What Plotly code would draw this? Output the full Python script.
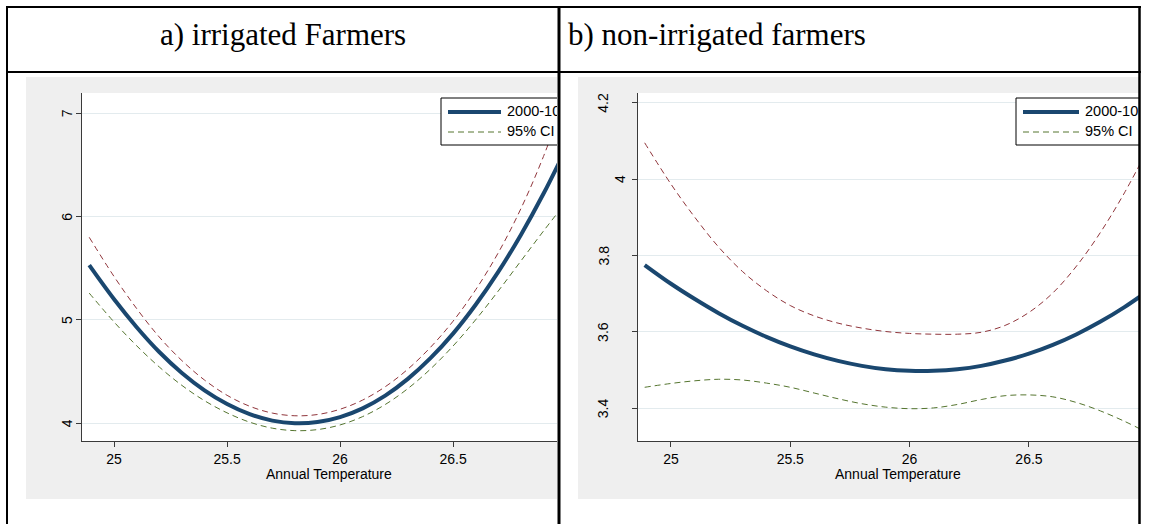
import plotly.graph_objects as go

# ---------------------------------------------------------------- data
TEMP = [24.89, 25.0, 25.1, 25.2, 25.3, 25.4, 25.5, 25.6, 25.7, 25.8, 25.9,
        26.0, 26.1, 26.2, 26.3, 26.4, 26.5, 26.6, 26.7, 26.8, 26.9, 27.0]

# irrigated farmers: fitted value and 95% confidence band
IRR_FIT = [5.53, 5.20, 4.93, 4.69, 4.487, 4.319, 4.186, 4.088, 4.026, 4.001, 4.012,
           4.060, 4.145, 4.268, 4.430, 4.630, 4.868, 5.147, 5.465, 5.823, 6.221, 6.660]
IRR_LO = [5.26, 4.98, 4.75, 4.545, 4.367, 4.219, 4.101, 4.011, 3.953, 3.929, 3.939,
          3.984, 4.065, 4.182, 4.336, 4.525, 4.748, 5.002, 5.280, 5.570, 5.860, 6.140]
IRR_HI = [5.80, 5.42, 5.11, 4.835, 4.607, 4.419, 4.271, 4.165, 4.099, 4.073, 4.085,
          4.136, 4.225, 4.354, 4.524, 4.735, 4.988, 5.292, 5.650, 6.076, 6.582, 7.180]

# non-irrigated farmers: fitted value and 95% confidence band
NON_FIT = [3.775, 3.726, 3.686, 3.649, 3.616, 3.587, 3.562, 3.541, 3.524, 3.511, 3.502,
           3.498, 3.498, 3.502, 3.511, 3.525, 3.543, 3.566, 3.594, 3.627, 3.665, 3.708]
NON_LO = [3.455, 3.465, 3.472, 3.476, 3.474, 3.466, 3.455, 3.440, 3.425, 3.412, 3.403,
          3.399, 3.401, 3.410, 3.423, 3.433, 3.435, 3.430, 3.415, 3.393, 3.366, 3.335]
NON_HI = [4.095, 3.987, 3.900, 3.822, 3.758, 3.708, 3.669, 3.642, 3.623, 3.610, 3.601,
          3.596, 3.594, 3.594, 3.599, 3.617, 3.651, 3.702, 3.773, 3.861, 3.964, 4.081]

X_TICKS = [25, 25.5, 26, 26.5]
X_TICK_TEXT = ["25", "25.5", "26", "26.5"]
IRR_Y_TICKS = [4, 5, 6, 7]
IRR_Y_TEXT = ["4", "5", "6", "7"]
NON_Y_TICKS = [3.4, 3.6, 3.8, 4.0, 4.2]
NON_Y_TEXT = ["3.4", "3.6", "3.8", "4", "4.2"]

PANEL_TITLES = ["a) irrigated Farmers", "b) non-irrigated farmers"]
LEGEND_LABELS = ["2000-10", "95% CI"]
X_TITLE = "Annual Temperature"

# ---------------------------------------------------------------- style
W, H = 1149, 524
NAVY = "#1a476f"
MAROON = "#90353b"
GREEN = "#55752f"
REGION = "#efefef"
GRID = "#e3ebee"
AXIS = "#3a3a3a"
SANS = "Liberation Sans, Arial, sans-serif"
SERIF = "Liberation Serif, Times New Roman, serif"


def fx(px):
    return px / W


def fy(py):
    return 1 - py / H


panels = [
    dict(xa="x", ya="y", xname="xaxis", yname="yaxis",
         plot_x=(82, 557), xr=(24.858, 26.960), yr=(3.8287, 7.1965),
         region_x=(26, 557), leg_left=441, sample=(448, 501), text_x=507,
         title_x=329, ylab_x=(67, 49),
         fit=IRR_FIT, lo=IRR_LO, hi=IRR_HI,
         yticks=IRR_Y_TICKS, ytext=IRR_Y_TEXT),
    dict(xa="x2", ya="y2", xname="xaxis2", yname="yaxis2",
         plot_x=(638, 1139), xr=(24.862, 26.961), yr=(3.3144, 4.2254),
         region_x=(578, 1139), leg_left=1016, sample=(1023, 1079), text_x=1085,
         title_x=898, ylab_x=(620, 603),
         fit=NON_FIT, lo=NON_LO, hi=NON_HI,
         yticks=NON_Y_TICKS, ytext=NON_Y_TEXT),
]
PLOT_Y = (93, 441)
REGION_Y = (77, 499)

fig = go.Figure()
shapes = []
annotations = []
layout_axes = {}


def to_dx(p, px):
    (a, b), (r0, r1) = p["plot_x"], p["xr"]
    return r0 + (px - a) / (b - a) * (r1 - r0)


def to_dy(p, py):
    (top, bot), (r0, r1) = PLOT_Y, p["yr"]
    return r0 + (bot - py) / (bot - top) * (r1 - r0)


for p in panels:
    common = dict(xaxis=p["xa"], yaxis=p["ya"], showlegend=False, hoverinfo="skip")

    # confidence band and fitted curve
    fig.add_trace(go.Scatter(x=TEMP, y=p["hi"], mode="lines",
                             line=dict(color=MAROON, width=1, dash="6px,4px", shape="spline"),
                             **common))
    fig.add_trace(go.Scatter(x=TEMP, y=p["lo"], mode="lines",
                             line=dict(color=GREEN, width=1, dash="6px,4px", shape="spline"),
                             **common))
    fig.add_trace(go.Scatter(x=TEMP, y=p["fit"], mode="lines",
                             line=dict(color=NAVY, width=4, shape="spline"),
                             **common))

    # legend box, drawn inside the plot so it is clipped at the panel edge
    lx0, lx1 = to_dx(p, p["leg_left"]), to_dx(p, p["leg_left"] + 250)
    ly0, ly1 = to_dy(p, 145), to_dy(p, 98)
    fig.add_trace(go.Scatter(x=[lx0, lx1, lx1, lx0, lx0], y=[ly0, ly0, ly1, ly1, ly0],
                             mode="lines", fill="toself", fillcolor="white",
                             line=dict(color="black", width=1), **common))
    sx = [to_dx(p, p["sample"][0]), to_dx(p, p["sample"][1])]
    fig.add_trace(go.Scatter(x=sx, y=[to_dy(p, 112)] * 2, mode="lines",
                             line=dict(color=NAVY, width=4), **common))
    fig.add_trace(go.Scatter(x=sx, y=[to_dy(p, 132)] * 2, mode="lines",
                             line=dict(color=GREEN, width=1, dash="6px,4px"), **common))
    fig.add_trace(go.Scatter(x=[to_dx(p, p["text_x"])] * 2,
                             y=[to_dy(p, 112), to_dy(p, 132)],
                             mode="text", text=LEGEND_LABELS, textposition="middle right",
                             textfont=dict(family=SANS, size=14.5, color="black"),
                             cliponaxis=True, **common))

    # axes
    layout_axes[p["xname"]] = dict(
        domain=[fx(p["plot_x"][0]), fx(p["plot_x"][1])], range=list(p["xr"]),
        anchor=p["ya"], showline=True, linecolor=AXIS, linewidth=1,
        ticks="outside", ticklen=5, tickcolor=AXIS, tickwidth=1,
        tickvals=X_TICKS, ticktext=X_TICK_TEXT, ticklabelstandoff=0,
        tickfont=dict(family=SANS, size=14, color="black"),
        showgrid=False, zeroline=False, fixedrange=True)
    layout_axes[p["yname"]] = dict(
        domain=[fy(PLOT_Y[1]), fy(PLOT_Y[0])], range=list(p["yr"]),
        anchor=p["xa"], showline=True, linecolor=AXIS, linewidth=1,
        ticks="outside", ticklen=5, tickcolor=AXIS, tickwidth=1,
        tickvals=p["yticks"], showticklabels=False,
        showgrid=True, gridcolor=GRID, gridwidth=1, zeroline=False, fixedrange=True)

    # vertical y tick labels
    for v, t in zip(p["yticks"], p["ytext"]):
        annotations.append(dict(
            x=fx(p["ylab_x"][0] if len(t) == 1 else p["ylab_x"][1]), xref="paper",
            y=v, yref=p["ya"], text=t, showarrow=False, textangle=-90,
            xanchor="center", yanchor="middle",
            font=dict(family=SANS, size=14, color="black")))

    annotations.append(dict(
        x=fx(p["title_x"]), y=fy(474), xref="paper", yref="paper", text=X_TITLE,
        showarrow=False, xanchor="center", yanchor="middle",
        font=dict(family=SANS, size=14, color="black")))

    # graph region and plot region backgrounds
    shapes.append(dict(type="rect", xref="paper", yref="paper", layer="below",
                       x0=fx(p["region_x"][0]), x1=fx(p["region_x"][1]),
                       y0=fy(REGION_Y[1]), y1=fy(REGION_Y[0]),
                       fillcolor=REGION, line=dict(width=0)))
    shapes.append(dict(type="rect", xref="paper", yref="paper", layer="below",
                       x0=fx(p["plot_x"][0]), x1=fx(p["plot_x"][1]),
                       y0=fy(PLOT_Y[1]), y1=fy(PLOT_Y[0]),
                       fillcolor="white", line=dict(width=0)))

# panel titles in the header row
annotations.append(dict(x=fx(283), y=fy(34), xref="paper", yref="paper",
                        text=PANEL_TITLES[0], showarrow=False,
                        xanchor="center", yanchor="middle",
                        font=dict(family=SERIF, size=31, color="black")))
annotations.append(dict(x=fx(566), y=fy(34), xref="paper", yref="paper",
                        text=PANEL_TITLES[1], showarrow=False,
                        xanchor="left", yanchor="middle",
                        font=dict(family=SERIF, size=31, color="black")))

# table rules
def rule(x0, y0, x1, y1, w):
    shapes.append(dict(type="line", xref="paper", yref="paper", layer="above",
                       x0=fx(x0), y0=fy(y0), x1=fx(x1), y1=fy(y1),
                       line=dict(color="black", width=w)))


rule(6, 7, 1141, 7, 2)
rule(6, 72, 1141, 72, 2)
rule(7, 6, 7, 524, 2)
rule(559, 6, 559, 524, 3)
rule(1139.5, 6, 1139.5, 524, 2.5)

fig.update_layout(
    width=W, height=H, margin=dict(l=0, r=0, t=0, b=0),
    paper_bgcolor="white", plot_bgcolor="rgba(0,0,0,0)",
    shapes=shapes, annotations=annotations, **layout_axes)

fig.write_html("out.html")
